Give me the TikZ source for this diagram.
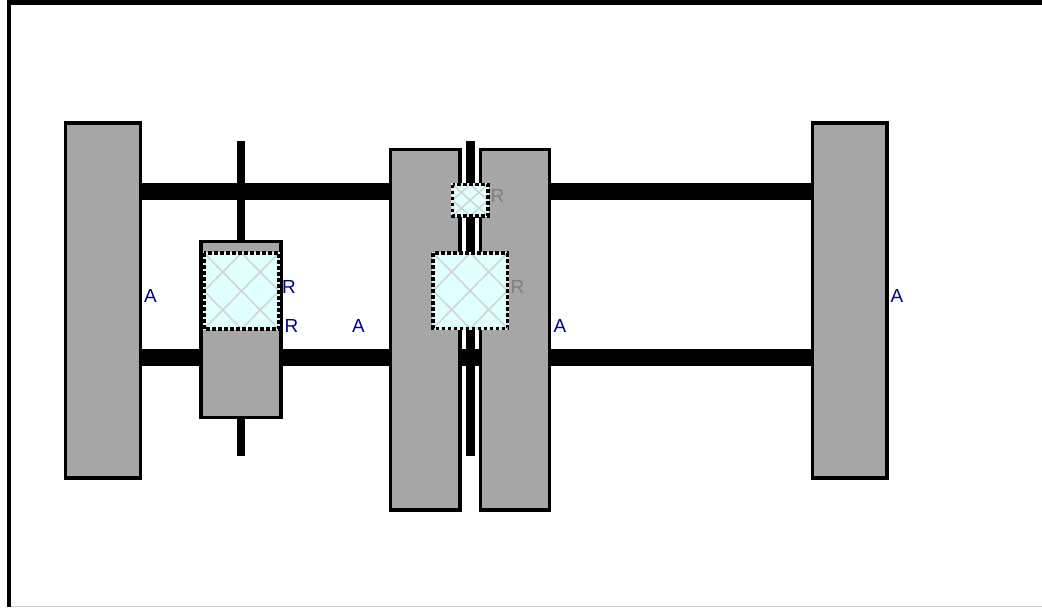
\documentclass[tikz,border=0pt]{standalone}
\usepackage{fontspec}
\setmainfont{Liberation Sans}
\definecolor{blockgrey}{HTML}{A6A6A6}
\definecolor{icecyan}{HTML}{E0FFFF}
\definecolor{latticegrey}{HTML}{D3D3D3}
\definecolor{labelnavy}{HTML}{00008B}
\definecolor{labelgrey}{HTML}{808080}
\tikzset{
  block/.style={fill=blockgrey,draw=black,line width=2.5pt,line join=miter},
  latticeline/.style={draw=latticegrey,line width=1.15pt},
  navylabel/.style={text=labelnavy,font=\fontsize{14.2pt}{15pt}\selectfont,inner sep=0pt},
  greylabel/.style={text=labelgrey,font=\fontsize{14.2pt}{15pt}\selectfont,inner sep=0pt},
}
% lattice square: x0,y0,x1,y1 in px
\newcommand{\latticesq}[4]{%
  \fill[icecyan] (#1,#2) rectangle (#3,#4);
  \draw[latticeline] (#1,#2) -- (#3,#4) (#1,#4) -- (#3,#2);
  \draw[latticeline] ({(#1+#3)/2},#2) -- (#3,{(#2+#4)/2}) -- ({(#1+#3)/2},#4) -- (#1,{(#2+#4)/2}) -- cycle;
  \draw[black!8,line width=2.2pt] (#1,#2) rectangle (#3,#4);
  \draw[black,line width=2.6pt,dash pattern=on 2.7pt off 1.8pt] (#1,#2) rectangle (#3,#4);
}
\begin{document}
\begin{tikzpicture}[x=0.75pt,y=-0.75pt]
\useasboundingbox (0,0) rectangle (1042,607);
\fill[white] (0,0) rectangle (1042,607);
% frame
\fill[black] (7,0) rectangle (1042,4.8);
\fill[black] (7,0) rectangle (10.5,607);
\fill[latticegrey] (10.5,605.5) rectangle (1042,607);
% shafts
\fill[black] (141,183) rectangle (812,200);
\fill[black] (141,348.5) rectangle (812,365.5);
\fill[black] (236.8,140.5) rectangle (245.3,456);
% side blocks
\draw[block] (65.5,123) rectangle (140.5,478);
\draw[block] (812.5,123) rectangle (887,478);
% carriage
\draw[block] (201,241.5) rectangle (281,417.5);
% centre blocks
\draw[block] (390.5,149.5) rectangle (460,510);
\draw[block] (480.5,149.5) rectangle (549.5,510);
\fill[white] (462,140) rectangle (478,347);
\fill[white] (462,366) rectangle (478,456);
\fill[black] (461.5,348.5) rectangle (479,365.5);
\fill[black] (466,140.5) rectangle (474.7,456);
% lattice squares
\latticesq{204}{253}{279}{329}
\latticesq{452.5}{184.5}{488}{216}
\latticesq{433}{253}{507.5}{328.5}
% labels
\node[navylabel] (a1) at (150.5,296) {A};
\node[navylabel] (r1) at (289,287) {R};
\node[navylabel] (r2) at (291.5,326) {R};
\node[navylabel] (a2) at (358.5,326) {A};
\node[greylabel] (r3) at (497.5,196) {R};
\node[greylabel] (r4) at (517.5,287) {R};
\node[navylabel] (a3) at (560,326) {A};
\node[navylabel] (a4) at (897,296) {A};
\end{tikzpicture}
\end{document}
